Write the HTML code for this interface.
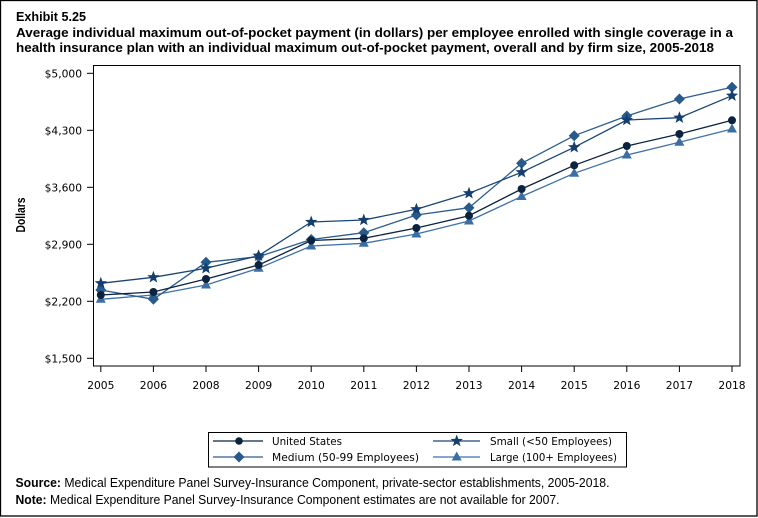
<!DOCTYPE html>
<html>
<head>
<meta charset="utf-8">
<style>
html,body{margin:0;padding:0;background:#fff;}
svg{display:block;}
.t{font-family:"Liberation Sans Narrow","Liberation Sans",sans-serif;font-weight:bold;font-size:13px;fill:#000;}
.tick{font-family:"DejaVu Sans","Liberation Sans",sans-serif;font-size:10.7px;fill:#000;}
.leg{font-family:"DejaVu Sans","Liberation Sans",sans-serif;font-size:10.5px;fill:#000;}
.src{font-family:"Liberation Sans Narrow","Liberation Sans",sans-serif;font-size:12.5px;fill:#000;}
</style>
</head>
<body>
<svg width="758" height="518" viewBox="0 0 758 518" xmlns="http://www.w3.org/2000/svg">
<defs>
  <path id="star" d="M0,-6.5 L1.587,-2.184 L6.182,-2.009 L2.568,0.834 L3.821,5.259 L0,2.7 L-3.821,5.259 L-2.568,0.834 L-6.182,-2.009 L-1.587,-2.184 Z"/>
  <path id="dia" d="M0,-5.5 L5.5,0 L0,5.5 L-5.5,0 Z"/>
  <path id="tri" d="M0,-5.5 L5,3.5 L-5,3.5 Z"/>
</defs>
<rect x="0.5" y="0.5" width="756.5" height="515.5" fill="#fff" stroke="#000" stroke-width="1.3"/>

<!-- Titles -->
<text class="t" x="16" y="21" textLength="70" lengthAdjust="spacingAndGlyphs">Exhibit 5.25</text>
<text class="t" x="16" y="37" textLength="717" lengthAdjust="spacingAndGlyphs">Average individual maximum out-of-pocket payment (in dollars) per employee enrolled with single coverage in a</text>
<text class="t" x="16" y="52" textLength="698" lengthAdjust="spacingAndGlyphs">health insurance plan with an individual maximum out-of-pocket payment, overall and by firm size, 2005-2018</text>

<!-- Plot frame -->
<rect x="93.5" y="65.5" width="646.5" height="300.5" fill="none" stroke="#000" stroke-width="1"/>

<!-- Y axis -->
<g stroke="#000" stroke-width="1">
  <line x1="87" y1="73.3" x2="93.5" y2="73.3"/>
  <line x1="87" y1="130.3" x2="93.5" y2="130.3"/>
  <line x1="87" y1="187.3" x2="93.5" y2="187.3"/>
  <line x1="87" y1="244.3" x2="93.5" y2="244.3"/>
  <line x1="87" y1="301.3" x2="93.5" y2="301.3"/>
  <line x1="87" y1="358.3" x2="93.5" y2="358.3"/>
</g>
<g class="tick" text-anchor="end">
  <text x="82" y="77.3">$5,000</text>
  <text x="82" y="134.3">$4,300</text>
  <text x="82" y="191.3">$3,600</text>
  <text x="82" y="248.3">$2,900</text>
  <text x="82" y="305.3">$2,200</text>
  <text x="82" y="362.3">$1,500</text>
</g>
<text class="t" transform="translate(25,215) rotate(-90)" text-anchor="middle" font-size="12" textLength="35" lengthAdjust="spacingAndGlyphs">Dollars</text>

<!-- X axis -->
<g stroke="#000" stroke-width="1">
  <line x1="100.8" y1="366" x2="100.8" y2="372"/>
  <line x1="153.4" y1="366" x2="153.4" y2="372"/>
  <line x1="206" y1="366" x2="206" y2="372"/>
  <line x1="258.6" y1="366" x2="258.6" y2="372"/>
  <line x1="311.2" y1="366" x2="311.2" y2="372"/>
  <line x1="363.8" y1="366" x2="363.8" y2="372"/>
  <line x1="416.4" y1="366" x2="416.4" y2="372"/>
  <line x1="469" y1="366" x2="469" y2="372"/>
  <line x1="521.6" y1="366" x2="521.6" y2="372"/>
  <line x1="574.2" y1="366" x2="574.2" y2="372"/>
  <line x1="626.8" y1="366" x2="626.8" y2="372"/>
  <line x1="679.4" y1="366" x2="679.4" y2="372"/>
  <line x1="732" y1="366" x2="732" y2="372"/>
</g>
<g class="tick" text-anchor="middle">
  <text x="100.8" y="389">2005</text>
  <text x="153.4" y="389">2006</text>
  <text x="206" y="389">2008</text>
  <text x="258.6" y="389">2009</text>
  <text x="311.2" y="389">2010</text>
  <text x="363.8" y="389">2011</text>
  <text x="416.4" y="389">2012</text>
  <text x="469" y="389">2013</text>
  <text x="521.6" y="389">2014</text>
  <text x="574.2" y="389">2015</text>
  <text x="626.8" y="389">2016</text>
  <text x="679.4" y="389">2017</text>
  <text x="732" y="389">2018</text>
</g>

<!-- Series lines -->
<g fill="none" stroke-width="1.3">
  <polyline stroke="#3f72a9" points="100.8,299.3 153.4,295 206,285 258.6,268.3 311.2,246 363.8,243.3 416.4,234 469,221 521.6,196.5 574.2,173.3 626.8,155 679.4,142.3 732,129"/>
  <polyline stroke="#2b5d8e" points="100.8,290 153.4,299.3 206,262.3 258.6,256.7 311.2,239.5 363.8,232.7 416.4,215 469,207.7 521.6,163.3 574.2,135.7 626.8,116 679.4,99 732,87.3"/>
  <polyline stroke="#0c2340" points="100.8,295 153.4,292 206,279 258.6,265 311.2,240.5 363.8,238.3 416.4,228 469,215.7 521.6,189 574.2,165.3 626.8,146 679.4,134 732,120.3"/>
  <polyline stroke="#1a4575" points="100.8,283.3 153.4,277.3 206,268.3 258.6,255.7 311.2,222 363.8,220 416.4,209.3 469,193.3 521.6,172.3 574.2,147.3 626.8,120 679.4,117.7 732,95.7"/>
</g>

<!-- Markers: Large (triangle) -->
<g fill="#3b6ea5">
  <use href="#tri" x="100.8" y="299.3"/><use href="#tri" x="153.4" y="295"/><use href="#tri" x="206" y="285"/>
  <use href="#tri" x="258.6" y="268.3"/><use href="#tri" x="311.2" y="246"/><use href="#tri" x="363.8" y="243.3"/>
  <use href="#tri" x="416.4" y="234"/><use href="#tri" x="469" y="221"/><use href="#tri" x="521.6" y="196.5"/>
  <use href="#tri" x="574.2" y="173.3"/><use href="#tri" x="626.8" y="155"/><use href="#tri" x="679.4" y="142.3"/>
  <use href="#tri" x="732" y="129"/>
</g>
<!-- Medium (diamond) -->
<g fill="#285a8c">
  <use href="#dia" x="100.8" y="290"/><use href="#dia" x="153.4" y="299.3"/><use href="#dia" x="206" y="262.3"/>
  <use href="#dia" x="258.6" y="256.7"/><use href="#dia" x="311.2" y="239.5"/><use href="#dia" x="363.8" y="232.7"/>
  <use href="#dia" x="416.4" y="215"/><use href="#dia" x="469" y="207.7"/><use href="#dia" x="521.6" y="163.3"/>
  <use href="#dia" x="574.2" y="135.7"/><use href="#dia" x="626.8" y="116"/><use href="#dia" x="679.4" y="99"/>
  <use href="#dia" x="732" y="87.3"/>
</g>
<!-- US (circle) -->
<g fill="#0c2340">
  <circle cx="100.8" cy="295" r="4"/><circle cx="153.4" cy="292" r="4"/><circle cx="206" cy="279" r="4"/>
  <circle cx="258.6" cy="265" r="4"/><circle cx="311.2" cy="240.5" r="4"/><circle cx="363.8" cy="238.3" r="4"/>
  <circle cx="416.4" cy="228" r="4"/><circle cx="469" cy="215.7" r="4"/><circle cx="521.6" cy="189" r="4"/>
  <circle cx="574.2" cy="165.3" r="4"/><circle cx="626.8" cy="146" r="4"/><circle cx="679.4" cy="134" r="4"/>
  <circle cx="732" cy="120.3" r="4"/>
</g>
<!-- Small (star) -->
<g fill="#143e6d">
  <use href="#star" x="100.8" y="283.3"/><use href="#star" x="153.4" y="277.3"/><use href="#star" x="206" y="268.3"/>
  <use href="#star" x="258.6" y="255.7"/><use href="#star" x="311.2" y="222"/><use href="#star" x="363.8" y="220"/>
  <use href="#star" x="416.4" y="209.3"/><use href="#star" x="469" y="193.3"/><use href="#star" x="521.6" y="172.3"/>
  <use href="#star" x="574.2" y="147.3"/><use href="#star" x="626.8" y="120"/><use href="#star" x="679.4" y="117.7"/>
  <use href="#star" x="732" y="95.7"/>
</g>

<!-- Legend -->
<rect x="208.5" y="432.5" width="418" height="34.5" fill="#fff" stroke="#000" stroke-width="1"/>
<line x1="213" y1="441" x2="263" y2="441" stroke="#0c2340" stroke-width="1.3"/>
<circle cx="239" cy="441" r="3.8" fill="#0c2340"/>
<text class="leg" x="272" y="445" textLength="70" lengthAdjust="spacingAndGlyphs">United States</text>

<line x1="433" y1="441" x2="480" y2="441" stroke="#1a4575" stroke-width="1.3"/>
<use href="#star" x="456.7" y="441" fill="#143e6d"/>
<text class="leg" x="490" y="445" textLength="122" lengthAdjust="spacingAndGlyphs">Small (&lt;50 Employees)</text>

<line x1="213" y1="457" x2="263" y2="457" stroke="#2b5d8e" stroke-width="1.3"/>
<use href="#dia" x="239" y="457" fill="#285a8c"/>
<text class="leg" x="272" y="461" textLength="147" lengthAdjust="spacingAndGlyphs">Medium (50-99 Employees)</text>

<line x1="433" y1="457" x2="480" y2="457" stroke="#3f72a9" stroke-width="1.3"/>
<use href="#tri" x="456.7" y="457" fill="#3b6ea5"/>
<text class="leg" x="490" y="461" textLength="127" lengthAdjust="spacingAndGlyphs">Large (100+ Employees)</text>

<!-- Source / Note -->
<text class="src" x="15.5" y="487" textLength="594" lengthAdjust="spacingAndGlyphs"><tspan font-weight="bold">Source:</tspan> Medical Expenditure Panel Survey-Insurance Component, private-sector establishments, 2005-2018.</text>
<text class="src" x="15.5" y="504" textLength="544" lengthAdjust="spacingAndGlyphs"><tspan font-weight="bold">Note:</tspan> Medical Expenditure Panel Survey-Insurance Component estimates are not available for 2007.</text>
</svg>
</body>
</html>
